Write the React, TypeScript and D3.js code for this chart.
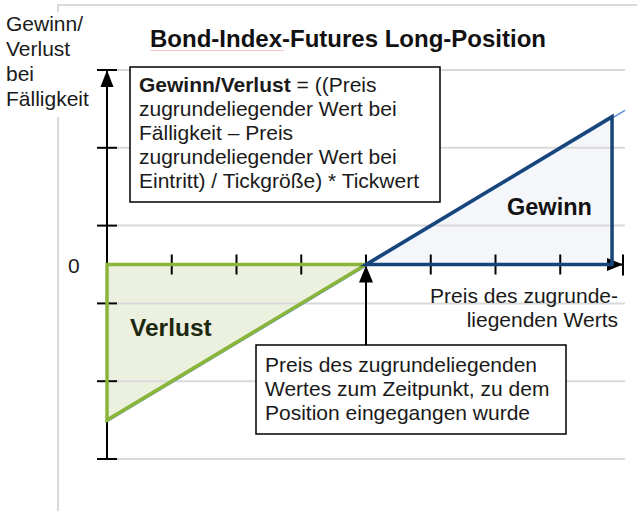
import * as React from "react";
import * as d3 from "d3";

// price axis ticks (abstract units), P&L grid levels
const priceTicks = [1, 2, 3, 4, 5, 6, 7];
const pnlGrid = [2.5, 1.5, 0.5, -0.5, -1.5, -2.5];
const entryPrice = 4;

// payoff of the long position: pnl = 0.5 * (price - entry)
const payoffLine: [number, number][] = [
  [0, -2],
  [8, 2]
];
const lossArea: [number, number][] = [
  [0, 0],
  [4, 0],
  [0, -2]
];
const gainArea: [number, number][] = [
  [4, 0],
  [7.8, 0],
  [7.8, 1.9]
];

const title = "Bond-Index-Futures Long-Position";
const yLabel = ["Gewinn/", "Verlust", "bei", "Fälligkeit"];
const formulaLines = [
  "zugrundeliegender Wert bei",
  "Fälligkeit – Preis",
  "zugrundeliegender Wert bei",
  "Eintritt) / Tickgröße) * Tickwert"
];
const entryNote = [
  "Preis des zugrundeliegenden",
  "Wertes zum Zeitpunkt, zu dem",
  "Position eingegangen wurde"
];
const xLabel = ["Preis des zugrunde-", "liegenden Werts"];

const font = "'Liberation Sans', Arial, sans-serif";

export default function App() {
  const width = 637;
  const height = 511;

  const x = d3.scaleLinear().domain([0, 8]).range([107, 625]);
  const y = d3.scaleLinear().domain([-2.5, 2.5]).range([459, 70]);

  const line = d3
    .line<[number, number]>()
    .x(d => x(d[0]))
    .y(d => y(d[1]));
  const poly = (pts: [number, number][]) => line(pts) + "Z";

  const x0 = x(0);
  const y0 = y(0);
  const yTop = y(pnlGrid[0]);
  const yBottom = y(pnlGrid[pnlGrid.length - 1]);
  const xEnd = x(8) - 2;
  const xEntry = x(entryPrice);

  return (
    <svg
      width={width}
      height={height}
      style={{ position: "absolute", left: 0, top: 0, background: "#fff" }}
      fontFamily={font}
    >
      {/* frame */}
      <line x1={58} x2={637} y1={5} y2={5} stroke="#d9d9d9" strokeWidth={2} />
      <line x1={58} x2={58} y1={4} y2={12} stroke="#d9d9d9" strokeWidth={2} />
      <line x1={58} x2={58} y1={117} y2={511} stroke="#d9d9d9" strokeWidth={2} />

      {/* title */}
      <text
        x={348}
        y={47}
        textAnchor="middle"
        fontSize={24}
        fontWeight="bold"
        fill="#111"
      >
        {title}
      </text>
      <line x1={150} x2={284} y1={50.5} y2={50.5} stroke="#f6c4c4" strokeWidth={1} />

      {/* y label */}
      {yLabel.map((t, i) => (
        <text key={t} x={6} y={31 + i * 25} fontSize={21} fill="#1a1a1a">
          {t}
        </text>
      ))}

      {/* areas */}
      <path d={poly(lossArea)} fill="#ebf1de" />
      <path d={poly(gainArea)} fill="#f4f6fa" />

      {/* grid */}
      {pnlGrid.map(v => (
        <line
          key={v}
          x1={x0 + 10}
          x2={x(8)}
          y1={y(v)}
          y2={y(v)}
          stroke="#d9d9d9"
          strokeWidth={2}
        />
      ))}

      {/* y axis */}
      <line x1={x0} x2={x0} y1={yTop} y2={yBottom} stroke="#000" strokeWidth={2} />
      {pnlGrid.map(v => (
        <line
          key={v}
          x1={x0 - 10}
          x2={x0 + 10}
          y1={y(v)}
          y2={y(v)}
          stroke="#000"
          strokeWidth={2}
        />
      ))}
      <path
        d={`M${x0},${yTop} L${x0 - 6.5},${yTop + 17} L${x0 + 6.5},${yTop + 17}Z`}
        fill="#000"
      />
      <text x={68} y={273} fontSize={21} fill="#1a1a1a">
        0
      </text>

      {/* x axis */}
      <line x1={x0} x2={xEnd} y1={y0} y2={y0} stroke="#000" strokeWidth={2} />
      {priceTicks.map(v => (
        <line
          key={v}
          x1={x(v)}
          x2={x(v)}
          y1={y0 - 10}
          y2={y0 + 10}
          stroke="#000"
          strokeWidth={2}
        />
      ))}
      <line x1={xEnd} x2={xEnd} y1={y0 - 10} y2={y0 + 11} stroke="#000" strokeWidth={2} />
      <path
        d={`M${xEnd},${y0} L${xEnd - 16},${y0 - 6.5} L${xEnd - 16},${y0 + 6.5}Z`}
        fill="#000"
      />

      {/* payoff */}
      <path
        d={line(payoffLine) as string}
        transform="translate(0,1.5)"
        fill="none"
        stroke="#5b8fd6"
        strokeWidth={1.5}
      />
      <path
        d={poly(lossArea)}
        fill="none"
        stroke="#8ab53a"
        strokeWidth={3.5}
        strokeLinejoin="miter"
      />
      <path
        d={poly(gainArea)}
        fill="none"
        stroke="#17447b"
        strokeWidth={3.5}
      />

      <text x={130} y={336} fontSize={24.5} fontWeight="bold" fill="#1c2710">
        Verlust
      </text>
      <text x={507} y={215} fontSize={23.5} fontWeight="bold" fill="#111">
        Gewinn
      </text>

      {/* formula box */}
      <rect x={130} y={67} width={310} height={135} fill="#fff" stroke="#000" strokeWidth={1.5} />
      <text x={139} y={92} fontSize={21} fill="#1a1a1a">
        <tspan fontWeight="bold">Gewinn/Verlust</tspan> = ((Preis
      </text>
      {formulaLines.map((t, i) => (
        <text key={i} x={139} y={116 + i * 24} fontSize={21} fill="#1a1a1a">
          {t}
        </text>
      ))}

      {/* entry annotation */}
      <line x1={xEntry} x2={xEntry} y1={345} y2={278} stroke="#000" strokeWidth={2} />
      <path
        d={`M${xEntry},${y0 + 1} L${xEntry - 7},${y0 + 18} L${xEntry + 7},${y0 + 18}Z`}
        fill="#000"
      />
      <rect x={256} y={345} width={310} height={89} fill="#fff" stroke="#000" strokeWidth={1.5} />
      {entryNote.map((t, i) => (
        <text key={i} x={265} y={372 + i * 24} fontSize={21} fill="#1a1a1a">
          {t}
        </text>
      ))}

      {/* x label */}
      {xLabel.map((t, i) => (
        <text
          key={i}
          x={618}
          y={303 + i * 24}
          textAnchor="end"
          fontSize={21}
          fill="#1a1a1a"
        >
          {t}
        </text>
      ))}
    </svg>
  );
}
